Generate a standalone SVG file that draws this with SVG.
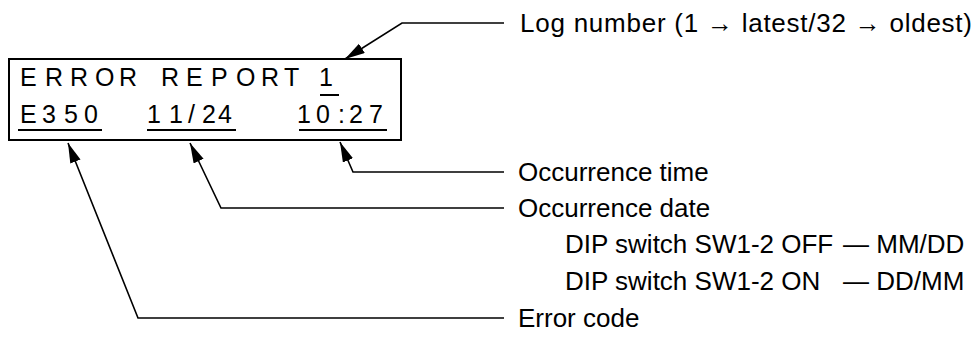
<svg xmlns="http://www.w3.org/2000/svg" width="979" height="340" viewBox="0 0 979 340">
<style>
.lbl{font-family:"Liberation Sans",Arial,sans-serif;font-size:26px;fill:#000}
.lcd{font-family:"Liberation Sans",Arial,sans-serif;font-size:25px;fill:#000}
.conn{fill:none;stroke:#000;stroke-width:1.6}
.ul{stroke:#000;stroke-width:2}
</style>
<defs>
<marker id="ah" markerUnits="userSpaceOnUse" markerWidth="22" markerHeight="12" refX="20" refY="5.5" orient="auto">
<path d="M0,0 L20,5.5 L0,11 z" fill="#000"/>
</marker>
</defs>
<rect width="979" height="340" fill="#fff"/>
<g id="display">
<rect x="9" y="59" width="392" height="81" fill="none" stroke="#000" stroke-width="2"/>
<text class="lcd" x="20 45 70 95 119" y="86">ERROR</text>
<text class="lcd" x="161 186 211 236 261 284" y="86">REPORT</text>
<text class="lcd" x="319" y="86">1</text>
<line class="ul" x1="320" y1="95" x2="339" y2="95"/>
<text class="lcd" x="20 42 64 84" y="123">E350</text>
<text class="lcd" x="147 169 188 202 218" y="123">11/24</text>
<text class="lcd" x="297 316 338 349 369" y="123">10:27</text>
<line class="ul" x1="18" y1="130" x2="102" y2="130"/>
<line class="ul" x1="147" y1="130" x2="236" y2="130"/>
<line class="ul" x1="299" y1="130" x2="387" y2="130"/>
</g>
<g id="connectors">
<path class="conn" d="M504 23 L402 23 L345 59" marker-end="url(#ah)"/>
<path class="conn" d="M504 172 L353 172 L340 142" marker-end="url(#ah)"/>
<path class="conn" d="M504 208 L221 208 L190 143" marker-end="url(#ah)"/>
<path class="conn" d="M504 318 L138 318 L68 143" marker-end="url(#ah)"/>
</g>
<g id="log-number">
<text class="lbl" x="520" y="32" textLength="452" lengthAdjust="spacing">Log number (1 → latest/32 → oldest)</text>
</g>
<g id="occurrence-time">
<text class="lbl" x="518" y="181">Occurrence time</text>
</g>
<g id="occurrence-date">
<text class="lbl" x="518" y="217">Occurrence date</text>
<text class="lbl" x="565" y="253">DIP switch SW1-2 OFF <tspan x="843">— MM/DD</tspan></text>
<text class="lbl" x="565" y="290">DIP switch SW1-2 ON <tspan x="843">— DD/MM</tspan></text>
</g>
<g id="error-code">
<text class="lbl" x="518" y="327">Error code</text>
</g>
</svg>
